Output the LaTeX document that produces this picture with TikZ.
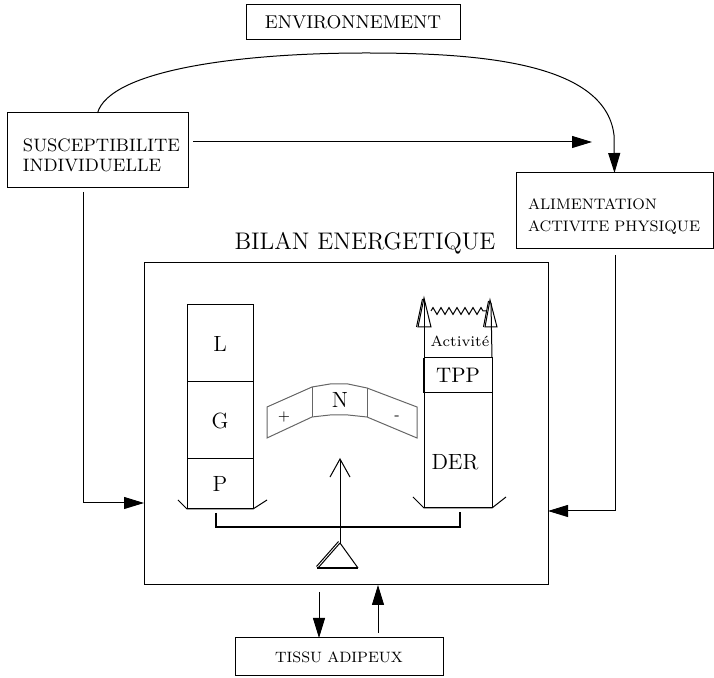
\documentclass[tikz,border=0pt]{standalone}
\usetikzlibrary{arrows.meta, positioning, decorations.pathmorphing}

\tikzset{
  box/.style={draw, line width=0.5pt, inner sep=0pt, outer sep=0pt},
  arr/.style={line width=0.5pt, -{Triangle[length=10pt,width=6pt]}},
  cell/.style={box, minimum width=33pt, font=\fontsize{11}{13}\selectfont},
}

\begin{document}
\begin{tikzpicture}[x=0.5pt, y=-0.5pt, line width=0.5pt]
  \useasboundingbox (0,0) rectangle (714,678);
  % boxes round the balance
  \node[box, minimum width=107pt, minimum height=17.5pt, font=\fontsize{9.25}{11}\selectfont] (env) at (353,22.5) {ENVIRONNEMENT};
  \node[box, text width=74.5pt, inner xsep=8pt, minimum height=37.5pt, align=left, font=\fontsize{9}{10}\selectfont] (susc) at (97.5,150.5) {\rule{0pt}{11.5pt}SUSCEPTIBILITE\\INDIVIDUELLE};
  \node[box, text width=86.5pt, inner xsep=6pt, minimum height=38pt, align=left, font=\fontsize{7.6}{11}\selectfont] (alim) at (614.5,211) {\rule{0pt}{11pt}ALIMENTATION\\ACTIVITE PHYSIQUE};
  \node[box, minimum width=202pt, minimum height=161pt] (frame) at (346,424) {};
  \node[font=\fontsize{12}{14}\selectfont] (bilan) at (365,243) {BILAN ENERGETIQUE};
  \node[box, minimum width=104pt, minimum height=19pt, font=\fontsize{7.5}{9}\selectfont] (tissu) at (339,657) {TISSU ADIPEUX};

  % left pan
  \node[cell, minimum height=38.5pt] (L) at (220,343.5) {L};
  \node[cell, minimum height=38.5pt, below=0pt of L] (G) {G};
  \node[cell, minimum height=25pt, below=0pt of G] (P) {P};
  \draw (178,500) -- (P.south west) -- (P.south east) -- (267,500);

  % right pan
  \node[box, minimum width=34pt, minimum height=17.5pt, font=\fontsize{10.5}{12}\selectfont] (tpp) at (458,375.5) {TPP};
  \node[box, minimum width=34pt, minimum height=57.5pt, below=0pt of tpp] (der) {};
  \node[font=\fontsize{11}{13}\selectfont] (derlbl) at (455,462) {DER};
  \node[font=\fontsize{7.4}{9}\selectfont] (act) at (460,341) {Activité};
  \draw (tpp.north west) -- (424,300);
  \draw (tpp.north east) -- (491,303);
  \draw[line width=1pt] (tpp.north west) -- (tpp.south west);
  \draw (413,497) -- (der.south west) -- (der.south east) -- (506,497);
  \draw (424,298) -- (418,327) -- (431,327) -- cycle;
  \draw (422.5,299) -- (416.5,327);
  \draw (490,300) -- (485,327) -- (497,327) -- cycle;
  \draw (488.5,301) -- (483.5,327);
  \draw[decorate, decoration={zigzag, segment length=4pt, amplitude=1.7pt}] (431,311) -- (486,311);

  % needle scale
  \draw[gray!80!black] (267,407) -- (312,387) -- (330,384) -- (348,384) -- (367,388) -- (417,407)
    -- (417,438) -- (367,417) -- (348,415) -- (330,415) -- (312,417) -- (267,438) -- cycle;
  \draw[gray!80!black] (312,387) -- (312,417) (367,388) -- (367,417);
  \node[font=\fontsize{7}{8}\selectfont] (plus) at (284,417) {+};
  \node[font=\fontsize{11}{13}\selectfont] (nn) at (340,400) {N};
  \node[font=\fontsize{7}{8}\selectfont] (minus) at (397,418) {-};

  % beam, needle and fulcrum
  \draw[line width=1pt] (216,513) -- (216,527) -- (460,527) -- (460,512);
  \coordinate (pivot) at (340,543);
  \draw[-{Straight Barb[length=9pt,width=10pt]}] (pivot) -- (340,458);
  \draw (pivot) -- (358,568);
  \draw (pivot) -- (318,568);
  \draw (338.5,541.5) -- (316.5,566.5);
  \draw[line width=1pt] (316.5,568) -- (358,568);

  % influences
  \draw[arr] (susc.north) .. controls (110,70) and (240,53) .. (365,53)
    .. controls (470,53) and (605,60) .. (614,135) -- (alim.north);
  \coordinate (hEnd) at (592,142);
  \draw[arr, shorten <=2.5pt] (susc.east |- hEnd) -- (hEnd);
  \coordinate (lTurn) at (83,503);
  \draw[arr, shorten <=2pt] (susc.south -| lTurn) -- (lTurn) -- (lTurn -| frame.west);
  \coordinate (rTurn) at (615,511);
  \draw[arr, shorten <=3pt] (alim.south -| rTurn) -- (rTurn) -- (rTurn -| frame.east);
  \coordinate (outX) at (319,620);
  \coordinate (inX) at (378,620);
  \draw[arr, shorten <=3.5pt] (frame.south -| outX) -- (tissu.north -| outX);
  \draw[arr, shorten <=2.5pt] (tissu.north -| inX) -- (frame.south -| inX);
\end{tikzpicture}
\end{document}
